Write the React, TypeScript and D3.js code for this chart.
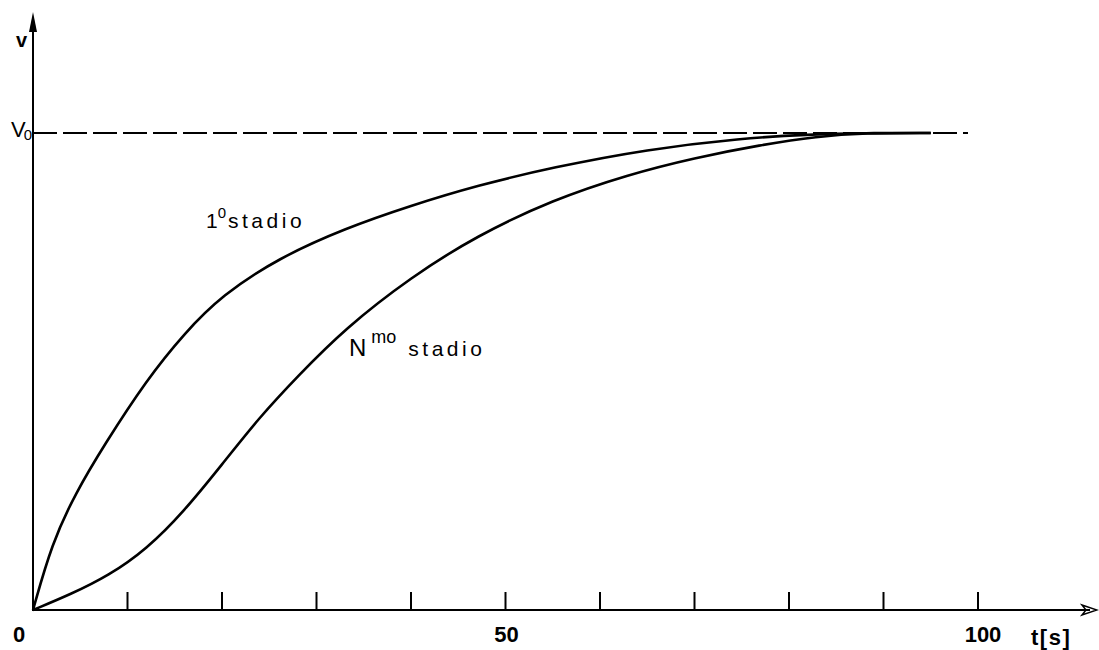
import React from "react";
import * as d3 from "d3";

// t in seconds, v as fraction of V0
const stage1T = [0, 2, 4.5, 7.5, 12, 16, 20, 26, 33, 40, 47, 55, 65, 75, 82, 88, 95];
const stage1V = [0, 0.14, 0.245, 0.345, 0.482, 0.58, 0.66, 0.738, 0.8, 0.848, 0.89, 0.928, 0.966, 0.989, 0.997, 1, 1];

const stageNT = [0, 4, 8, 12, 16, 20, 24, 28, 33, 40, 47, 55, 63, 70, 77, 83, 88, 95];
const stageNV = [0, 0.033, 0.072, 0.127, 0.207, 0.305, 0.405, 0.49, 0.59, 0.698, 0.785, 0.86, 0.913, 0.948, 0.975, 0.993, 1, 1];

const tickValues = [10, 20, 30, 40, 50, 60, 70, 80, 90, 100];
const labelValues = [0, 50, 100];
const v0 = 1;

const W = 1099;
const H = 650;

export default function App() {
  const x = d3.scaleLinear().domain([0, 100]).range([33, 978]);
  const y = d3.scaleLinear().domain([0, 1]).range([610, 133]);

  const line = d3
    .line<[number, number]>()
    .x((d) => x(d[0]))
    .y((d) => y(d[1]))
    .curve(d3.curveBasis);

  const s1 = line(stage1T.map((t, i) => [t, stage1V[i]] as [number, number]));
  const sN = line(stageNT.map((t, i) => [t, stageNV[i]] as [number, number]));

  const font = "'Liberation Sans', Arial, sans-serif";
  const x0 = x(0);
  const y0 = y(0);

  return (
    <svg
      width={W}
      height={H}
      style={{ position: "absolute", left: 0, top: 0, background: "#fff" }}
      fontFamily={font}
    >
      {/* axes */}
      <line x1={x0} y1={y0 + 1} x2={x0} y2={18} stroke="#000" strokeWidth={2} />
      <path d={`M${x0 - 4},${32} L${x0},${12} L${x0 + 4},${32} Z`} fill="#000" />
      <line x1={x0} y1={y0} x2={1090} y2={y0} stroke="#000" strokeWidth={2} />
      <path
        d={`M1082,${y0 - 5} L1097,${y0} L1082,${y0 + 5} L1086,${y0} Z`}
        fill="none"
        stroke="#000"
        strokeWidth={1.5}
      />

      {tickValues.map((t) => (
        <line key={t} x1={x(t)} x2={x(t)} y1={y0} y2={y0 - 18} stroke="#000" strokeWidth={2} />
      ))}

      {labelValues.map((t) => (
        <text
          key={t}
          x={t === 0 ? x(t) - 14 : t === 50 ? x(t) + 1 : x(t) + 5}
          y={642}
          fontSize={22}
          fontWeight="bold"
          textAnchor="middle"
        >
          {t}
        </text>
      ))}

      <text x={1031} y={645} fontSize={22} fontWeight="bold" letterSpacing={1.5}>
        t[s]
      </text>

      <text x={16} y={47} fontSize={20} fontWeight="bold">
        v
      </text>
      <text x={11} y={137} fontSize={22}>
        V
        <tspan fontSize={15} dx={-2} dy={3}>
          0
        </tspan>
      </text>

      {/* V0 asymptote */}
      <line
        x1={x0}
        x2={968}
        y1={y(v0)}
        y2={y(v0)}
        stroke="#000"
        strokeWidth={2.2}
        strokeDasharray="24 6"
      />

      {/* curves */}
      <path d={s1 || ""} fill="none" stroke="#000" strokeWidth={2.6} />
      <path d={sN || ""} fill="none" stroke="#000" strokeWidth={2.6} />

      {/* labels */}
      <text x={206} y={228} fontSize={21}>
        1
        <tspan fontSize={15} dy={-10}>
          0
        </tspan>
        <tspan dy={10} dx={2} letterSpacing={3.5}>
          stadio
        </tspan>
      </text>
      <text x={349} y={356} fontSize={24}>
        N
        <tspan fontSize={18} dy={-13} dx={5}>
          mo
        </tspan>
        <tspan fontSize={21} dy={13} dx={12} letterSpacing={3.5}>
          stadio
        </tspan>
      </text>
    </svg>
  );
}
